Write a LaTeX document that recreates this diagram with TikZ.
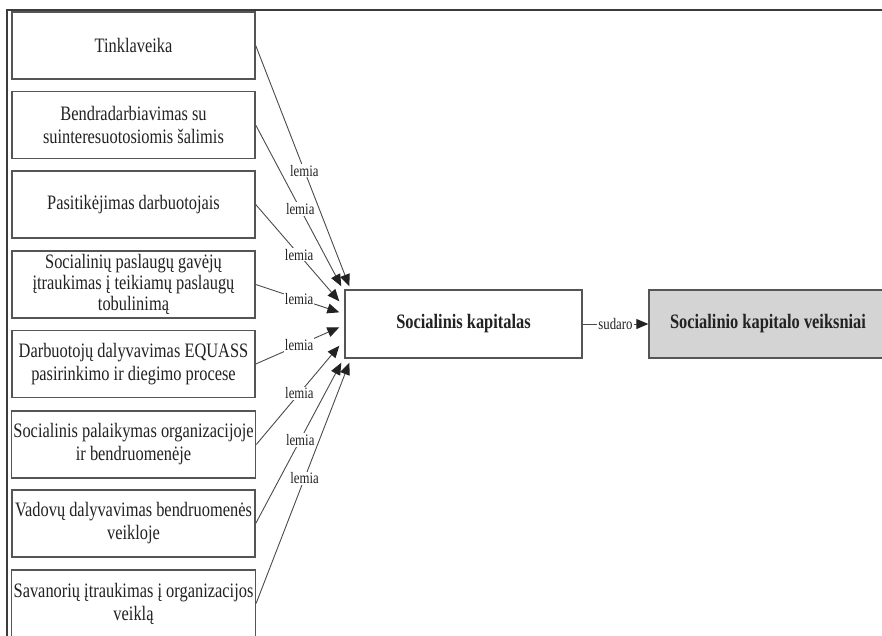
\documentclass[tikz,border=0pt]{standalone}
\usepackage{fontspec}
\setmainfont{Liberation Serif}[FakeStretch=0.8]
\usetikzlibrary{arrows.meta,calc}
\definecolor{ink}{HTML}{222222}
\definecolor{edge}{HTML}{555555}
\definecolor{wire}{HTML}{4A4A4A}
\definecolor{shade}{HTML}{D4D4D4}
\definecolor{framecol}{HTML}{3C3C3C}

\begin{document}
\begin{tikzpicture}[x=1pt,y=-1pt,
  factor/.style={draw=edge, line width=1.4pt, fill=white,
    minimum width=243pt, minimum height=67pt, align=center,
    text=ink, inner sep=2pt, font=\fontsize{20.5}{23}\selectfont},
  hub/.style={draw=edge, line width=1.4pt, fill=white,
    minimum width=237pt, minimum height=68pt, text=ink,
    font=\fontsize{20.5}{23}\selectfont\bfseries},
  result/.style={hub, fill=shade, minimum width=238pt},
  link/.style={draw=wire, line width=0.9pt,
    -{Triangle[length=12pt,width=10pt,color=ink]}},
  tag/.style={fill=white, inner sep=1pt, text=ink,
    font=\fontsize{16}{16}\selectfont},
]
\useasboundingbox (0,0) rectangle (882,635);
\clip (0,0) rectangle (882,635);

% outer frame (top and left edges)
\draw[framecol, line width=2pt] (7,640) -- (7,10) -- (890,10);

% influencing factors
\node[factor] (b1) at (133.5,45.5)  {Tinklaveika};
\node[factor] (b2) at (133.5,125)   {Bendradarbiavimas su\\suinteresuotosiomis šalimis};
\node[factor] (b3) at (133.5,204.5) {Pasitikėjimas darbuotojais};
\node[factor, font=\fontsize{20.5}{21}\selectfont] (b4) at (133.5,284.5)
  {Socialinių paslaugų gavėjų\\įtraukimas į teikiamų paslaugų\\tobulinimą};
\node[factor] (b5) at (133.5,364)   {Darbuotojų dalyvavimas EQUASS\\pasirinkimo ir diegimo procese};
\node[factor] (b6) at (133.5,444.5) {Socialinis palaikymas organizacijoje\\ir bendruomenėje};
\node[factor] (b7) at (133.5,523.5) {Vadovų dalyvavimas bendruomenės\\veikloje};
\node[factor] (b8) at (133.5,603.5) {Savanorių įtraukimas į organizacijos\\veiklą};

% central concept and its result
\node[hub] (c) at (463.5,324) {Socialinis kapitalas};
\node[result] (r) at (768,324) {Socialinio kapitalo veiksniai};

% factor links
\draw[link] (b1.east) -- node[tag,pos=0.52]{lemia} ($(c.north west)+(5,-3)$);
\draw[link] (b2.east) -- node[tag,pos=0.52]{lemia} ($(c.north west)+(-3,-3)$);
\draw[link] (b3.east) -- node[tag,pos=0.52]{lemia} ($(c.north west)+(-5,12)$);
\draw[link] (b4.east) -- node[tag,pos=0.52]{lemia} ($(c.north west)+(-5,23)$);
\draw[link] (b5.east) -- node[tag,pos=0.52]{lemia} ($(c.north west)+(-5,38)$);
\draw[link] (b6.east) -- node[tag,pos=0.52]{lemia} ($(c.south west)+(-5,-13)$);
\draw[link] (b7.east) -- node[tag,pos=0.52]{lemia} ($(c.south west)+(-3,4)$);
\draw[link] (b8.east) -- node[tag,pos=0.52]{lemia} ($(c.south west)+(5,4)$);

\draw[link] (c.east) -- node[tag]{sudaro} (r.west);
\end{tikzpicture}
\end{document}
